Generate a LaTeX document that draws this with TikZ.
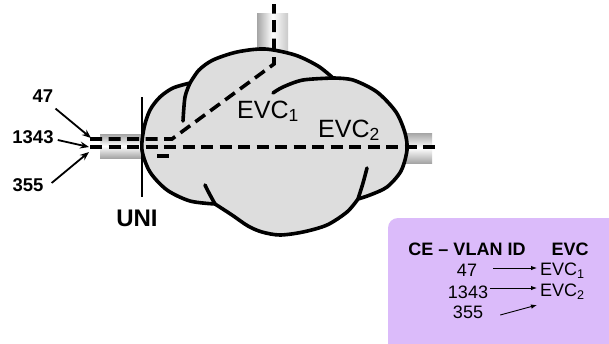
\documentclass[tikz,border=0pt]{standalone}
\usepackage{fontspec}
\setmainfont{Liberation Sans}
\usetikzlibrary{arrows.meta}
\definecolor{cloudgray}{RGB}{221,221,221}
\definecolor{boxpurple}{RGB}{219,187,250}
\definecolor{pipegray}{RGB}{165,165,165}
\begin{document}
\begin{tikzpicture}[x=1pt,y=-1pt,
  outline/.style={line width=3.6pt, line join=round, line cap=round},
  vlan/.style={line width=3.6pt, dash pattern=on 12pt off 6.5pt},
  lbl/.style={font=\fontsize{18.5}{20}\selectfont\bfseries, inner sep=0pt},
  ptr/.style={-{Stealth[length=9pt,width=7pt]}, line width=1.8pt},
  tbl/.style={font=\fontsize{18}{20}\selectfont, inner sep=0pt},
  tarrow/.style={-{Latex[length=6pt,width=4.5pt]}, line width=0.9pt},
  evc/.style={font=\fontsize{25}{27}\selectfont, inner sep=0pt},
]
\useasboundingbox (0,0) rectangle (609,343);
\clip (0,0) rectangle (609,343);
\fill[white] (0,0) rectangle (609,343);

% pipes
\shade[top color=pipegray, bottom color=pipegray, middle color=white] (100,134) rectangle (146,158);
\shade[left color=pipegray, right color=pipegray!60, middle color=white] (257,13) rectangle (288,56);
\shade[top color=pipegray, bottom color=pipegray, middle color=white] (404,133) rectangle (432,163);

% cloud
\filldraw[fill=cloudgray, outline]
  plot[smooth] coordinates {(190,83) (199,70) (213,60) (237,52) (265,49) (295,55) (318,66) (333,78)}
  -- plot[smooth] coordinates {(333,78) (353,80) (377,92) (396,112) (405,133) (407,150) (401,171) (387,187) (370,195) (358,199)}
  -- plot[smooth] coordinates {(358,199) (347,212) (327,225) (303,232) (280,235) (262,232) (248,226) (232,215) (215,204)}
  -- plot[smooth] coordinates {(215,204) (190,201) (167,190) (150,172) (142,150) (144,128) (150,110) (160,97) (173,88) (190,83)}
  -- cycle;
\draw[outline] plot[smooth] coordinates {(190,83) (185,97) (183,121)};
\draw[outline] plot[smooth] coordinates {(333,78) (303,80) (283,87) (273,93)};
\draw[outline] plot[smooth] coordinates {(215,204) (209,193) (205,185)};
\draw[outline] plot[smooth] coordinates {(358,199) (363,183) (367,168)};

% VLAN paths
\coordinate (a1) at (90,139);
\coordinate (a2) at (172,139);
\coordinate (a3) at (274,64);
\coordinate (a4) at (274,4);
\coordinate (b1) at (90,147);
\coordinate (b2) at (438,147);
\coordinate (c1) at (157,156);
\coordinate (c2) at (169,156);
\draw[vlan] (a1) -- (a2) -- (a3) -- (a4);
\draw[vlan] (b1) -- (b2);
\draw[vlan] (c1) -- (c2);

% UNI
\coordinate (u1) at (142,97);
\coordinate (u2) at (142,197);
\draw[line width=1.2pt] (u1) -- (u2);
\node[font=\fontsize{24}{26}\selectfont\bfseries, inner sep=0pt] (uni) at (137,218) {UNI};

% cloud labels
\node[evc, anchor=base west] (evc1) at (237,118) {EVC\textsubscript{1}};
\node[evc, anchor=base west] (evc2) at (318,137) {EVC\textsubscript{2}};

% VLAN id labels
\node[lbl] (n47) at (43,96) {47};
\node[lbl] (n1343) at (33,137) {1343};
\node[lbl] (n355) at (28,185) {355};
\coordinate (t47) at (91,138);
\coordinate (t1343) at (89,147);
\coordinate (t355) at (89,152);
\draw[ptr] ([shift={(2pt,-6pt)}]n47.south east) -- (t47);
\draw[ptr] ([shift={(4pt,-3pt)}]n1343.east) -- (t1343);
\draw[ptr] ([shift={(8pt,2pt)}]n355.east) -- (t355);

% table
\fill[boxpurple, rounded corners=10pt] (388,218) rectangle (630,360);
\node[tbl, font=\fontsize{18}{20}\selectfont\bfseries] (hA) at (467,249) {CE – VLAN ID};
\node[tbl, font=\fontsize{18}{20}\selectfont\bfseries] (hB) at (570,249) {EVC};
\node[tbl] (v47) at (467,270) {47};
\node[tbl] (v1343) at (468,292) {1343};
\node[tbl] (v355) at (468,312) {355};
\node[tbl, anchor=west] (e1) at (540,271) {EVC\textsubscript{1}};
\node[tbl, anchor=west] (e2) at (540,292) {EVC\textsubscript{2}};
\draw[tarrow] ([shift={(16pt,2pt)}]v47.east) -- ([shift={(-3pt,3pt)}]e1.west);
\draw[tarrow] ([shift={(2pt,4pt)}]v1343.east) -- ([shift={(-3pt,4pt)}]e2.west);
\draw[tarrow] ([shift={(17pt,-3pt)}]v355.east) -- ([shift={(-3pt,-13pt)}]e2.west);
\end{tikzpicture}
\end{document}
